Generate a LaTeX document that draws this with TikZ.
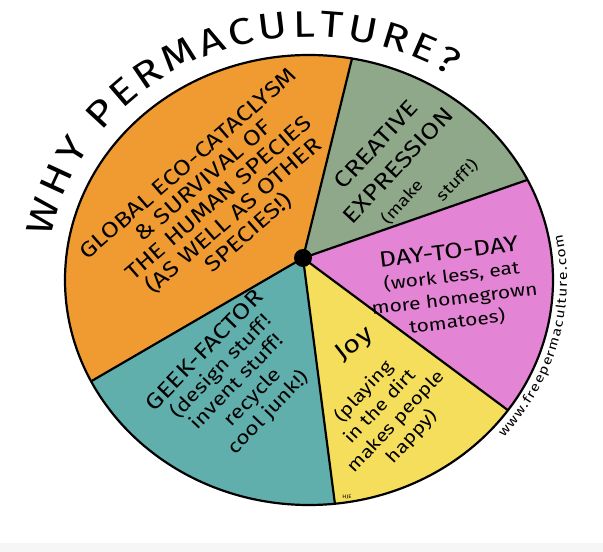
\documentclass[tikz,border=0pt]{standalone}
\usepackage{fontspec}
\setmainfont[FakeStretch=1.2]{Fira Sans}
\usetikzlibrary{calc,decorations.text}

\definecolor{pieorange}{RGB}{240,155,50}
\definecolor{piesage}{RGB}{143,168,138}
\definecolor{piepink}{RGB}{228,132,212}
\definecolor{pieyellow}{RGB}{245,222,92}
\definecolor{pieteal}{RGB}{96,175,172}
\newcommand{\titlesize}{\fontsize{37}{37}\selectfont}
\newcommand{\websize}{\fontsize{13}{13}\selectfont}

\begin{document}
\begin{tikzpicture}[x=1pt,y=1pt,
  lbl/.style={align=center,inner sep=0pt,font=\fontsize{19}{22}\selectfont},
  edge/.style={line width=2.2pt}]
\useasboundingbox (0,0) rectangle (603,552);
\fill[gray!7] (0,0) rectangle (603,9);
\coordinate (c) at (309,272);
\coordinate (hub) at (303,294);
% slices, cut to the disc
\begin{scope}
\clip (c) ellipse [x radius=244,y radius=225];
\foreach \a/\b/\col in {19.2/76.2/piesage,76.2/210.2/pieorange,210.2/277.4/pieteal,
                        277.4/323.4/pieyellow,323.4/379.2/piepink}
  \fill[\col] (hub) -- ($(hub)+(\a:600)$) arc[start angle=\a,end angle=\b,radius=600] -- cycle;
\foreach \a in {19.2,76.2,210.2,277.4,323.4}
  \draw[edge] (hub) -- ($(hub)+(\a:600)$);
\end{scope}
\draw[edge] (c) ellipse [x radius=244,y radius=225];
\fill (hub) circle (9);

% title and web address round the rim
\path[decorate,decoration={text along path,text align={fit to path},
  text={|\titlesize|WHY PERMACULTURE?}}]
  ($(c)+(170:262 and 243)$) arc[start angle=170,end angle=57,x radius=262,y radius=243];
\path[decorate,decoration={text along path,text align={fit to path},
  text={|\websize|www.freepermaculture.com}}]
  ($(c)+(-41:258 and 240)$) arc[start angle=-41,end angle=11,x radius=258,y radius=240];

% slice labels
\node[lbl,rotate=41,font=\fontsize{21.5}{23}\selectfont] (global) at (219,353)
  {GLOBAL ECO-CATACLYSM\\\& SURVIVAL OF\\THE HUMAN SPECIES\\(AS WELL AS OTHER\\SPECIES!)};
\node[lbl,rotate=47,font=\fontsize{22.5}{30}\selectfont] (creative) at (387,397)
  {CREATIVE\\EXPRESSION};
\node[lbl,rotate=48,font=\fontsize{16}{19}\selectfont] (make) at (402,350) {(make};
\node[lbl,rotate=45,font=\fontsize{16}{19}\selectfont] (stuff) at (457,372) {stuff!)};
\node[lbl,rotate=7,font=\fontsize{17.5}{23}\selectfont] (daytoday) at (453,265)
  {{\fontsize{22}{24}\selectfont DAY-TO-DAY}\\(work less, eat\\more homegrown\\tomatoes)};
\node[lbl,rotate=46] (geek) at (237,170)
  {{\fontsize{22}{24}\selectfont GEEK-FACTOR}\\(design stuff!\\invent stuff!\\recycle\\cool junk!)};
\node[lbl,rotate=38,font=\fontsize{24}{24}\selectfont] (joy) at (355,207) {Joy};
\node[lbl,rotate=47,font=\fontsize{17.5}{22}\selectfont] (playing) at (388,138)
  {(playing\\in the dirt\\makes people\\happy)};
\node[font=\fontsize{5}{5}\selectfont] (sig) at (347,55) {HJE};
\end{tikzpicture}
\end{document}
